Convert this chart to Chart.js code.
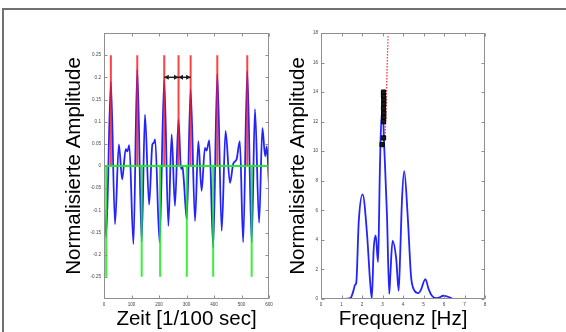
<!DOCTYPE html>
<html>
<head>
<meta charset="utf-8">
<script src="https://cdn.jsdelivr.net/npm/chart.js@4.4.0/dist/chart.umd.min.js"></script>
<style>
    html, body { margin: 0; padding: 0; background: #fff; overflow: hidden; }
    #wrap { position: relative; width: 566px; height: 332px; overflow: hidden; }
    #frame { position: absolute; left: 2px; top: 8px; width: 700px; height: 500px;
             border-left: 2px solid #707070; border-top: 2px solid #707070; }
    canvas { position: absolute; top: 0; }
</style>
</head>
<body>
<div id="wrap">
    <div id="frame"></div>
    <canvas id="timeChart" width="283" height="332" style="left:0"></canvas>
    <canvas id="freqChart" width="283" height="332" style="left:283px"></canvas>
</div>
<script>
// left plot: time signal
var timeT = [0, 8, 25, 40, 54, 66, 79, 85, 92, 107, 121, 137, 149, 164, 176, 181, 186, 202, 219, 234,
    246, 258, 271, 280, 285, 290, 301, 315, 331, 343, 355, 367, 373, 383, 397, 412, 428, 442, 458, 470,
    482, 494, 506, 521, 537, 549, 564, 576, 586, 592, 600];
var timeAmp = [-0.09, -0.16, 0.19, -0.131, 0.049, -0.03, 0.038, 0.033, 0.047, -0.176, 0.218, -0.17, 0.116, -0.087, 0.049, 0.052, 0.06, -0.172, 0.195, -0.135,
    0.071, -0.09, 0.105, -0.007, 0.0, -0.03, -0.12, 0.173, -0.124, 0.056, -0.056, 0.041, 0.035, 0.058, -0.184, 0.207, -0.146, 0.079, -0.038, 0.005,
    0.015, 0.056, -0.172, 0.214, -0.172, 0.128, -0.128, 0.086, 0.022, 0.044, -0.045];
var peakT = [25, 121, 219, 271, 315, 412, 521];
var peakLevel = 0.25;
var troughT = [8, 137, 204, 301, 397, 537];
var troughLevel = -0.25;
var arrowT = [219, 271, 315];
var arrowLevel = 0.2;
var timeXTicks = [0, 100, 200, 300, 400, 500, 600];
var timeYTicks = [-0.25, -0.2, -0.15, -0.1, -0.05, 0, 0.05, 0.1, 0.15, 0.2, 0.25];

// right plot: spectrum
var freqHz = [0, 0.5, 1.0, 1.3, 1.46, 1.59, 1.66, 1.72, 1.84, 2.03, 2.24, 2.4, 2.48, 2.57, 2.67, 2.78, 2.82, 2.86, 2.9, 3.0,
    3.09, 3.22, 3.33, 3.38, 3.49, 3.67, 3.79, 3.87, 3.95, 4.06, 4.23, 4.39, 4.52, 4.76, 4.87, 5.09, 5.25, 5.41, 5.66, 5.98,
    6.3, 6.45, 7, 8];
var freqAmp = [0, 0, 0, 0.02, 0.1, 0.6, 0.95, 1.1, 5.2, 7.08, 4.5, 1.1, 0.05, 3.4, 4.3, 2.5, 4.5, 7.9, 10.5, 13.0,
    10.1, 5.6, 0.35, 1.57, 3.93, 2.7, 0.56, 3.37, 6.7, 8.65, 5.6, 1.57, 0.67, 0.4, 0.6, 1.35, 0.67, 0.22, 0.05, 0.22,
    0.1, 0, 0, 0];
var markHz = [2.98, 3.05, 3.05, 3.06, 3.06, 3.05, 3.06, 3.06, 3.05, 3.05];
var markAmp = [10.45, 10.9, 12.0, 12.3, 12.6, 12.9, 13.2, 13.5, 13.75, 14.0];
var trendHz = [3.12, 3.17, 3.22, 3.27];
var trendAmp = [10.8, 12.6, 15.3, 17.8];
var freqXTicks = [0, 1, 2, 3, 4, 5, 6, 7, 8];
var freqYTicks = [0, 2, 4, 6, 8, 10, 12, 14, 16, 18];

var FONT = "'Liberation Sans', Arial, Helvetica, sans-serif";
var tickFont = { family: FONT, size: 4.6 };
var titleFont = { family: FONT, size: 20.5 };

function points(xs, ys) {
    return xs.map(function (x, i) { return { x: x, y: ys[i] }; });
}

// vertical sticks from y0 to y1, separated by gaps
function stems(xs, y0, y1) {
    var pts = [];
    xs.forEach(function (x) {
        pts.push({ x: x, y: y0 }, { x: x, y: y1 }, { x: x, y: null });
    });
    return pts;
}

function fixedTicks(values) {
    return function (scale) {
        scale.ticks = values.map(function (v) { return { value: v }; });
    };
}

// matlab style box with inward ticks
var boxTicks = {
    id: 'boxTicks',
    afterDraw: function (chart) {
        var a = chart.chartArea, ctx = chart.ctx;
        var xs = chart.scales.x, ys = chart.scales.y;
        var L = Math.round(a.left) + 0.5, R = Math.round(a.right) - 0.5;
        var T = Math.round(a.top) + 0.5, B = Math.round(a.bottom) - 0.5;
        ctx.save();
        ctx.strokeStyle = '#8f8f8f';
        ctx.lineWidth = 1;
        ctx.strokeRect(L, T, R - L, B - T);
        ctx.beginPath();
        xs.ticks.forEach(function (t) {
            var px = Math.round(xs.getPixelForValue(t.value)) + 0.5;
            ctx.moveTo(px, B); ctx.lineTo(px, B - 3);
            ctx.moveTo(px, T); ctx.lineTo(px, T + 3);
        });
        ys.ticks.forEach(function (t) {
            var py = Math.round(ys.getPixelForValue(t.value)) + 0.5;
            ctx.moveTo(L, py); ctx.lineTo(L + 3, py);
            ctx.moveTo(R, py); ctx.lineTo(R - 3, py);
        });
        ctx.stroke();
        ctx.restore();
    }
};

// arrow heads on the period arrows
var arrowHeads = {
    id: 'arrowHeads',
    afterDatasetsDraw: function (chart) {
        var ctx = chart.ctx, xs = chart.scales.x, ys = chart.scales.y;
        var py = ys.getPixelForValue(arrowLevel);
        function head(tip, dir) {
            ctx.beginPath();
            ctx.moveTo(tip, py);
            ctx.lineTo(tip - dir * 4.5, py - 2.5);
            ctx.lineTo(tip - dir * 4.5, py + 2.5);
            ctx.closePath();
            ctx.fill();
        }
        ctx.save();
        ctx.fillStyle = '#1a1a1a';
        for (var i = 0; i < arrowT.length - 1; i++) {
            head(xs.getPixelForValue(arrowT[i]), -1);
            head(xs.getPixelForValue(arrowT[i + 1]), 1);
        }
        ctx.restore();
    }
};

function axisTitle(text, pad) {
    return { display: true, text: text, color: '#000', font: titleFont, padding: pad };
}

function linearAxis(min, max, ticks, fit, title) {
    return {
        type: 'linear', min: min, max: max,
        afterBuildTicks: fixedTicks(ticks),
        afterFit: fit,
        grid: { display: false, drawTicks: false },
        border: { display: false },
        ticks: {
            font: tickFont, color: '#444', padding: 3, autoSkip: false, maxRotation: 0,
            callback: function (v) { return String(v); }
        },
        title: title
    };
}

var baseOptions = function (padRight, yWidth, xTitle, yTitle, xMin, xMax, xTicks, yMin, yMax, yTicks, yPad) {
    return {
        responsive: false,
        animation: false,
        layout: { padding: { top: 33, right: padRight, left: 0, bottom: 0 } },
        plugins: { legend: { display: false }, tooltip: { enabled: false } },
        elements: { point: { radius: 0 } },
        scales: {
            x: linearAxis(xMin, xMax, xTicks, function (s) { s.height = 33; },
                axisTitle(xTitle, { top: 0, bottom: 0 })),
            y: linearAxis(yMin, yMax, yTicks, function (s) { s.width = yWidth; },
                axisTitle(yTitle, { top: yPad, bottom: 0 }))
        }
    };
};

var timeChart = new Chart(document.getElementById('timeChart').getContext('2d'), {
    type: 'line',
    data: {
        datasets: [
            {
                data: points(arrowT, arrowT.map(function () { return arrowLevel; })),
                borderColor: '#222', borderWidth: 1.5, order: 0
            },
            {
                data: stems(troughT, 0, troughLevel),
                borderColor: 'rgba(25, 235, 25, 0.85)', borderWidth: 2, order: 1
            },
            {
                data: [{ x: timeXTicks[0], y: 0 }, { x: timeXTicks[timeXTicks.length - 1], y: 0 }],
                borderColor: 'rgba(25, 240, 25, 0.95)', borderWidth: 2, order: 1
            },
            {
                data: stems(peakT, 0, peakLevel),
                borderColor: 'rgba(255, 20, 20, 0.8)', borderWidth: 2, order: 2
            },
            {
                data: points(timeT, timeAmp),
                borderColor: 'rgb(35, 35, 255)', borderWidth: 1.8,
                cubicInterpolationMode: 'monotone', order: 3
            }
        ]
    },
    options: baseOptions(14, 104, 'Zeit [1/100 sec]', 'Normalisierte Amplitude',
        0, 600, timeXTicks, -0.3, 0.3, timeYTicks, 62),
    plugins: [boxTicks, arrowHeads]
});

var freqChart = new Chart(document.getElementById('freqChart').getContext('2d'), {
    type: 'line',
    data: {
        datasets: [
            {
                data: points(markHz, markAmp),
                showLine: false, pointStyle: 'rect', pointRadius: 3,
                backgroundColor: '#1a1a1a', borderColor: '#000', pointBorderWidth: 1, order: 0
            },
            {
                data: points(trendHz, trendAmp),
                borderColor: 'rgb(255, 30, 30)', borderWidth: 1.3, borderDash: [1.3, 1.7], order: 1
            },
            {
                data: points(freqHz, freqAmp),
                borderColor: 'rgb(35, 35, 255)', borderWidth: 1.8,
                cubicInterpolationMode: 'monotone', order: 2
            }
        ]
    },
    options: baseOptions(81, 38, 'Frequenz [Hz]', 'Normalisierte Amplitude',
        0, 8, freqXTicks, 0, 18, freqYTicks, 3),
    plugins: [boxTicks]
});
</script>
</body>
</html>
